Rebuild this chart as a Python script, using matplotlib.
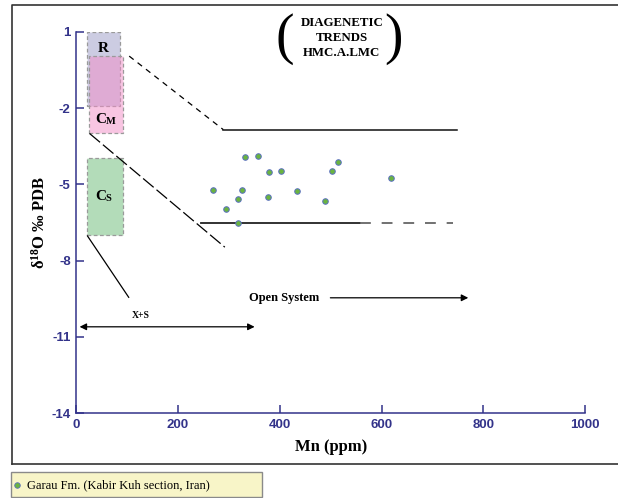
import matplotlib
matplotlib.use("Agg")
import matplotlib.pyplot as plt
from matplotlib.patches import Rectangle
from matplotlib.lines import Line2D

plt.rcParams["axes.unicode_minus"] = False
plt.rcParams["mathtext.fontset"] = "custom"
plt.rcParams["mathtext.rm"] = "Liberation Serif:bold"
plt.rcParams["mathtext.it"] = "Liberation Serif:bold"
plt.rcParams["mathtext.bf"] = "Liberation Serif:bold"

# Garau Fm. samples, Mn (ppm) vs d18O
mn = [269, 295, 317, 325, 331, 318, 358, 379, 376, 402, 433, 489, 502, 514, 619]
d18o = [-5.21, -5.96, -5.58, -5.21, -3.93, -6.53, -3.90, -4.50, -5.50, -4.48,
        -5.26, -5.67, -4.48, -4.11, -4.74]

# trend lines (x, y)
upper_dash_x = [104, 289]
upper_dash_y = [0.04, -2.85]
upper_solid_x = [289, 748]
upper_solid_y = [-2.85, -2.85]
mid_dash_x = [26, 292]
mid_dash_y = [-3.0, -7.47]
low_solid_x = [22, 103]
low_solid_y = [-7.03, -9.44]
base_solid_x = [245, 558]
base_dash_x = [558, 740]
base_y = -6.52

# fields: (x0, x1, y0, y1)
box_R = (21, 85, 1.0, -1.92)
box_CM = (25, 91, 0.04, -3.0)
box_CS = (21, 92, -3.98, -7.0)

navy = "#33338a"
serif = "Liberation Serif"
sans = "Liberation Sans"

fig = plt.figure(figsize=(6.18, 4.98), dpi=100)
ax = fig.add_axes([76.3 / 618, 1 - 413.3 / 498, (585 - 76.3) / 618, (413.3 - 31.7) / 498])

def field(b, fc):
    r = Rectangle((b[0], b[3]), b[1] - b[0], b[2] - b[3], facecolor=fc,
                  edgecolor="#9a9a9a", linestyle=(0, (3, 2)), linewidth=0.9, zorder=1)
    ax.add_patch(r)

field(box_R, "#ccccE2")
field(box_CM, (0.95, 0.55, 0.78, 0.5))
field(box_CS, "#b3dcb9")

ax.text(53, 0.35, "R", fontfamily=serif, fontweight="bold", fontsize=11, ha="center", va="center")
ax.text(58, -2.44, "C", fontfamily=serif, fontweight="bold", fontsize=11, ha="right", va="center")
ax.text(58, -2.52, "M", fontfamily=serif, fontweight="bold", fontsize=7.5, ha="left", va="center")
ax.text(58, -5.49, "C", fontfamily=serif, fontweight="bold", fontsize=11, ha="right", va="center")
ax.text(58, -5.57, "S", fontfamily=serif, fontweight="bold", fontsize=7.5, ha="left", va="center")

ax.plot(upper_dash_x, upper_dash_y, color="black", lw=0.9, dashes=[4.5, 4])
ax.plot(upper_solid_x, upper_solid_y, color="#111111", lw=1.1)
ax.plot(mid_dash_x, mid_dash_y, color="black", lw=0.9, dashes=[11, 3])
ax.plot(low_solid_x, low_solid_y, color="black", lw=0.9)
ax.plot(base_solid_x, [base_y, base_y], color="#222222", lw=1.3)
ax.plot(base_dash_x, [base_y, base_y], color="#666666", lw=1.3, dashes=[6, 6])

ax.scatter(mn, d18o, s=16, facecolor="#6ab43f", edgecolor="#5a6fc0", linewidth=0.7, zorder=5)

# annotations
for txt, yy in [("DIAGENETIC", 1.33), ("TRENDS", 0.74), ("HMC.A.LMC", 0.15)]:
    ax.text(522, yy, txt, fontfamily=serif, fontweight="bold", fontsize=9.3,
            ha="center", va="center", clip_on=False)
ax.text(410, 0.73, "(", fontfamily=serif, fontsize=40, ha="center", va="center")
ax.text(623, 0.73, ")", fontfamily=serif, fontsize=40, ha="center", va="center")

ax.text(408, -9.46, "Open System", fontfamily=serif, fontweight="bold", fontsize=9,
        ha="center", va="center")
ax.annotate("", xy=(776, -9.46), xytext=(494, -9.46),
            arrowprops=dict(arrowstyle="-|>", color="black", lw=0.9, mutation_scale=10))
ax.text(127, -10.16, "X+S", fontfamily=serif, fontweight="bold", fontsize=7,
        ha="center", va="center")
ax.annotate("", xy=(356, -10.6), xytext=(1, -10.6),
            arrowprops=dict(arrowstyle="<|-|>", color="black", lw=0.9, mutation_scale=10))

ax.set_xlim(0, 1000)
ax.set_ylim(-14, 1)
ax.set_xticks([0, 200, 400, 600, 800, 1000])
ax.set_yticks([1, -2, -5, -8, -11, -14])
ax.tick_params(direction="in", length=6, width=1.1, color=navy, labelcolor=navy,
               labelsize=9.5, pad=4)
for lab in ax.get_xticklabels() + ax.get_yticklabels():
    lab.set_fontfamily(sans)
    lab.set_fontweight("bold")
for s in ["top", "right"]:
    ax.spines[s].set_visible(False)
for s in ["left", "bottom"]:
    ax.spines[s].set_color(navy)
    ax.spines[s].set_linewidth(1.1)
ax.set_facecolor("none")

ax.set_xlabel("Mn (ppm)", fontfamily=serif, fontweight="bold", fontsize=12, labelpad=6)
ax.set_ylabel("δ$^{18}$O ‰ PDB", fontfamily=serif, fontweight="bold", fontsize=12, labelpad=2)

# outer frame
fig.add_artist(Line2D([12 / 618, 12 / 618, 1.0], [1 - 464 / 498, 1 - 5 / 498, 1 - 5 / 498],
                      color="#333333", lw=1.2, transform=fig.transFigure))
fig.add_artist(Line2D([12 / 618, 1.0], [1 - 464 / 498, 1 - 464 / 498],
                      color="#333333", lw=1.2, transform=fig.transFigure))

# legend box
fig.add_artist(Rectangle((11 / 618, 1 - 497 / 498), 251 / 618, 25 / 498, transform=fig.transFigure,
                         facecolor="#f8f5c8", edgecolor="#8a8a8a", lw=1.0))
fig.add_artist(Line2D([17 / 618], [1 - 485 / 498], marker="o", ms=4, mfc="#6ab43f", mec="#5a6fc0",
                      mew=0.6, transform=fig.transFigure))
fig.text(27 / 618, 1 - 485 / 498, "Garau Fm. (Kabir Kuh section, Iran)", fontfamily=serif,
         fontsize=9, ha="left", va="center")

fig.savefig("out.png", dpi=100)
